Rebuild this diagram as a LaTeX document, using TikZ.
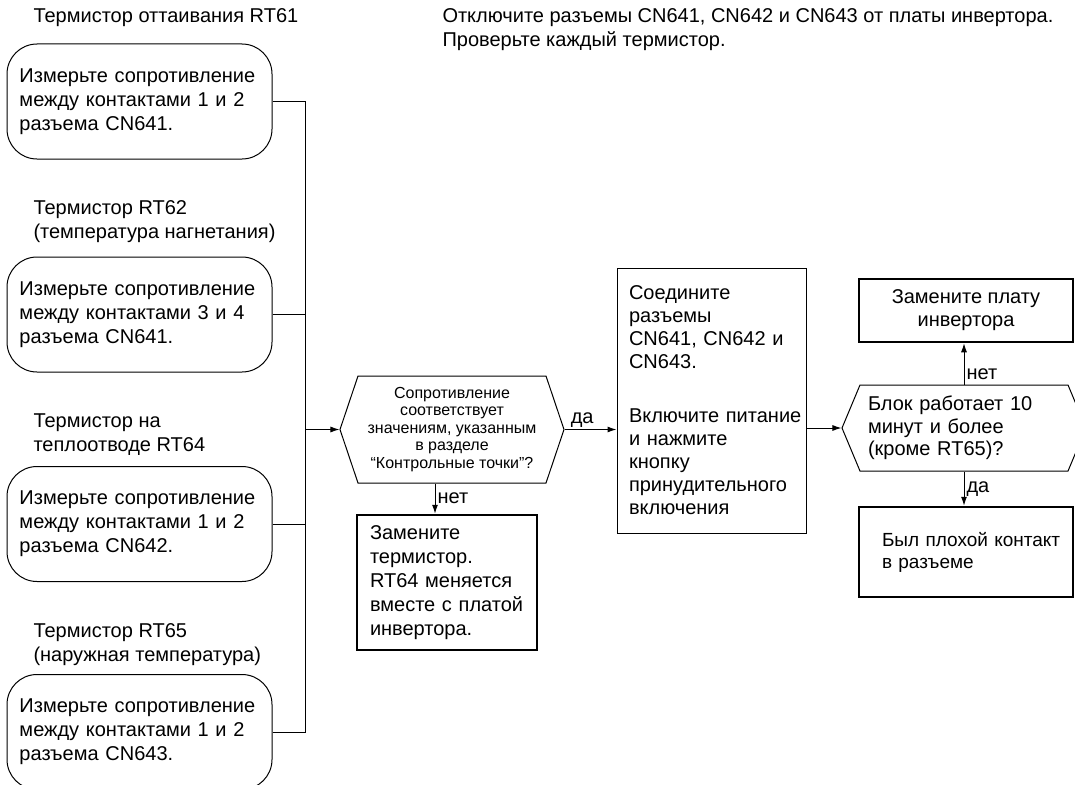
\documentclass[tikz,border=0pt]{standalone}
\usepackage{fontspec}
\setmainfont{Liberation Sans}
\usetikzlibrary{arrows.meta,shapes.symbols}

\tikzset{
  big/.style={font=\fontsize{20}{24}\selectfont},
  lbl/.style={big, anchor=west, align=left, inner sep=0pt},
  measbox/.style={draw, big, rounded corners=30pt, minimum width=265pt,
    minimum height=115pt, text width=240pt, inner xsep=12.5pt, inner ysep=0pt, align=left},
  hexbox/.style={draw, signal, signal to=east and west, inner sep=0pt},
  actbox/.style={draw, font=\fontsize{20}{23}\selectfont, align=left, inner sep=0pt},
  endbox/.style={draw, line width=2.5pt, font=\fontsize{20}{23}\selectfont, inner sep=0pt},
  yesno/.style={font=\fontsize{20}{24}\selectfont, inner sep=2pt},
}

\begin{document}
\begin{tikzpicture}[x=1pt,y=-1pt,>={Latex[length=9pt,width=6pt]},line width=1pt]
  \useasboundingbox (0,0) rectangle (1075,784);

  % thermistors and measurements
  \node[lbl] (l1) at (33,18) {Термистор оттаивания RT61};
  \node[measbox] (m1) at (139.5,101.5) {Измерьте сопротивление\\между контактами 1 и 2\\разъема CN641.};
  \node[lbl] (l2) at (33,222) {Термистор RT62\\(температура нагнетания)};
  \node[measbox] (m2) at (139.5,314.5) {Измерьте сопротивление\\между контактами 3 и 4\\разъема CN641.};
  \node[lbl] (l3) at (33,435) {Термистор на\\теплоотводе RT64};
  \node[measbox] (m3) at (139.5,524) {Измерьте сопротивление\\между контактами 1 и 2\\разъема CN642.};
  \node[lbl] (l4) at (33,645) {Термистор RT65\\(наружная температура)};
  \node[measbox] (m4) at (139.5,732) {Измерьте сопротивление\\между контактами 1 и 2\\разъема CN643.};

  \node[lbl] (note) at (442,30) {Отключите разъемы CN641, CN642 и CN643 от платы инвертора.\\Проверьте каждый термистор.};

  % checks and actions
  \node[hexbox, minimum width=224pt, minimum height=107pt, signal pointer angle=142.8,
    font=\fontsize{16}{17.5}\selectfont, align=center] (chk) at (452,429.5)
    {Сопротивление\\соответствует\\значениям, указанным\\в разделе\\“Контрольные точки”?};
  \node[endbox, minimum width=180pt, minimum height=135pt, text width=154pt, align=left,
    font=\fontsize{20}{24}\selectfont] (repl) at (447,582.5)
    {Замените\\термистор.\\RT64 меняется\\вместе с платой\\инвертора.};
  \node[actbox, minimum width=189pt, minimum height=265pt, text width=165pt] (conn) at (711.5,400.5)
    {Соедините\\разъемы\\CN641, CN642 и\\CN643.\\[31pt]\mbox{Включите питание}\\и нажмите\\кнопку\\принудительного\\включения};
  \node[hexbox, minimum width=244pt, minimum height=86pt, signal pointer angle=134.6,
    font=\fontsize{20}{22.5}\selectfont, text width=192pt, align=left] (run) at (964,428)
    {Блок работает 10\\минут и более\\(кроме RT65)?};
  \node[endbox, minimum width=214pt, minimum height=63pt, align=center] (newpcb) at (966,310.5)
    {Замените плату\\инвертора};
  \node[endbox, minimum width=214pt, minimum height=90pt, text width=168pt, align=left,
    font=\fontsize{19}{22}\selectfont] (badcon) at (966,552)
    {\mbox{Был плохой контакт}\\в разъеме};

  % connectors
  \coordinate (bus) at (305,429.5);
  \draw (m1.east) -| (bus);
  \draw (m4.east) -| (bus);
  \draw (m2.east) -- (m2.east -| bus);
  \draw (m3.east) -- (m3.east -| bus);
  \draw[->] (bus) -- (chk.west);
  \draw[->] (chk.east) -- (chk.east -| conn.west) node[yesno, pos=0.34, above] {да};
  \coordinate (nx) at (435,0);
  \draw[->] (chk.south -| nx) -- (repl.north -| nx) node[yesno, midway, right] {нет};
  \draw[->] (conn.east |- run.west) -- (run.west);
  \draw[->] (run.north) -- (run.north |- newpcb.south) node[yesno, pos=0.25, right] {нет};
  \draw[->] (run.south) -- (run.south |- badcon.north) node[yesno, midway, right] {да};
\end{tikzpicture}
\end{document}
